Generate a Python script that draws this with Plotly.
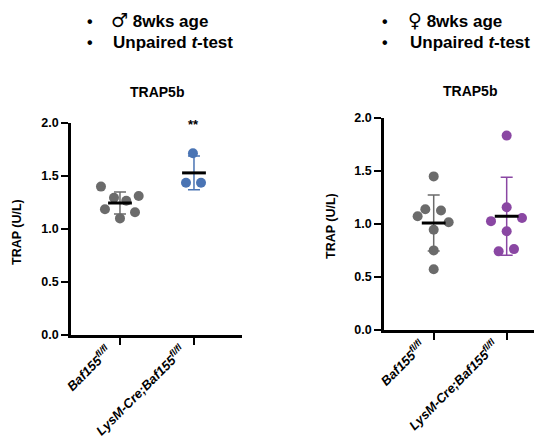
import numpy as np
import plotly.graph_objects as go

# ---- data ----
categories = ["<i>Baf155<sup>fl/fl</sup></i>", "<i>LysM-Cre;Baf155<sup>fl/fl</sup></i>"]

male_ctrl = [1.40, 1.295, 1.267, 1.311, 1.186, 1.10, 1.158]
male_ko = [1.714, 1.437, 1.437]
female_ctrl = [1.449, 1.139, 1.127, 1.073, 1.017, 0.945, 0.751, 0.573]
female_ko = [1.834, 1.158, 1.027, 1.056, 0.932, 0.742, 0.763]

y_ticks = [0.0, 0.5, 1.0, 1.5, 2.0]

# horizontal scatter offsets (category units) to mimic the point spread
male_ctrl_off = [-0.257, -0.081, 0.085, 0.253, -0.203, 0.0, 0.203]
male_ko_off = [-0.014, -0.108, 0.095]
female_ctrl_off = [0.0, -0.115, 0.10, -0.22, 0.205, 0.0, 0.0, 0.0]
female_ko_off = [0.0, 0.0, -0.215, 0.21, 0.0, -0.11, 0.10]

GRAY = "#6b6b6b"
BLUE = "#4a74b4"
PURPLE = "#8a47a3"
FONT = "Liberation Sans, Arial, sans-serif"

# page has an 8px body margin: work in page pixels and convert
OFF = 8
W, H = 542 - OFF, 439 - OFF


def px(x):
    return (x - OFF) / W


def py(y):
    return 1 - (y - OFF) / H


fig = go.Figure()


def add_group(vals, offs, cat, color, xa, ya):
    v = np.array(vals)
    fig.add_trace(go.Scatter(
        x=[cat + o for o in offs], y=v, mode="markers",
        marker=dict(color=color, size=10, line=dict(width=0)),
        xaxis=xa, yaxis=ya, showlegend=False, cliponaxis=False))
    m = v.mean()
    sd = v.std(ddof=1)
    fig.add_trace(go.Scatter(
        x=[cat], y=[m], mode="markers",
        marker=dict(symbol="line-ew", size=17, color="black",
                    line=dict(width=3, color="black")),
        error_y=dict(type="data", array=[sd], visible=True, color=color,
                     thickness=1.5, width=6),
        xaxis=xa, yaxis=ya, showlegend=False, cliponaxis=False))


add_group(male_ctrl, male_ctrl_off, 0, GRAY, "x", "y")
add_group(male_ko, male_ko_off, 1, BLUE, "x", "y")
add_group(female_ctrl, female_ctrl_off, 0, GRAY, "x2", "y2")
add_group(female_ko, female_ko_off, 1, PURPLE, "x2", "y2")

axis_common = dict(showline=True, linecolor="black", linewidth=2.5,
                   ticks="outside", ticklen=7, tickwidth=2, tickcolor="black",
                   showgrid=False, zeroline=False, automargin=False)

ytickfont = dict(family=FONT, size=12.5, color="black", weight="bold")

fig.update_layout(
    width=W, height=H,
    margin=dict(l=0, r=0, t=0, b=0),
    paper_bgcolor="white", plot_bgcolor="white",
    xaxis=dict(domain=[px(71), px(242)], range=[-0.662, 1.649],
               tickvals=[0, 1], showticklabels=False,
               anchor="y", **axis_common),
    yaxis=dict(domain=[py(335), py(123)], range=[0, 2],
               tickvals=y_ticks, tickformat=".1f", tickfont=ytickfont,
               anchor="x", **axis_common),
    xaxis2=dict(domain=[px(384), 1.0], range=[-0.681, 1.484],
                tickvals=[0, 1], showticklabels=False,
                anchor="y2", **axis_common),
    yaxis2=dict(domain=[py(330), py(118)], range=[0, 2],
                tickvals=y_ticks, tickformat=".1f", tickfont=ytickfont,
                anchor="x2", **axis_common),
)

# rotated category labels, top-right corner just below each tick
for xref, axis_y in [("x", 335), ("x2", 330)]:
    for i, lab in enumerate(categories):
        fig.add_annotation(x=i, y=py(axis_y + 4), xref=xref, yref="paper",
                           xshift=-3, text=lab, showarrow=False,
                           xanchor="right", yanchor="top", textangle=-45,
                           font=dict(family=FONT, size=13, color="black",
                                     weight="bold"))


def ann(x, y, text, size, xanchor="center", angle=0):
    fig.add_annotation(x=px(x), y=py(y), xref="paper", yref="paper",
                       text=text, showarrow=False, xanchor=xanchor,
                       yanchor="middle", textangle=angle,
                       font=dict(family=FONT, size=size, color="black",
                                 weight="bold"))


# headers
for bx, tx, sym in [(90, 109, "♂"), (385, 406, "♀")]:
    ann(bx, 21, "•", 16)
    ann(bx, 42, "•", 16)
    ann(tx, 20, '<span style="font-family:DejaVu Sans;font-size:19px;font-weight:normal">'
        + sym + "</span> 8wks age", 17, xanchor="left")
    ann(tx + 2, 42, "Unpaired <i>t</i>-test", 17, xanchor="left")

# panel titles
ann(157, 92, "TRAP5b", 14)
ann(470, 91, "TRAP5b", 14)

# y titles
ann(17, 232, "TRAP (U/L)", 12.5, angle=-90)
ann(331, 226, "TRAP (U/L)", 12.5, angle=-90)

# significance
ann(193, 124, "**", 13)

fig.write_html("out.html")
